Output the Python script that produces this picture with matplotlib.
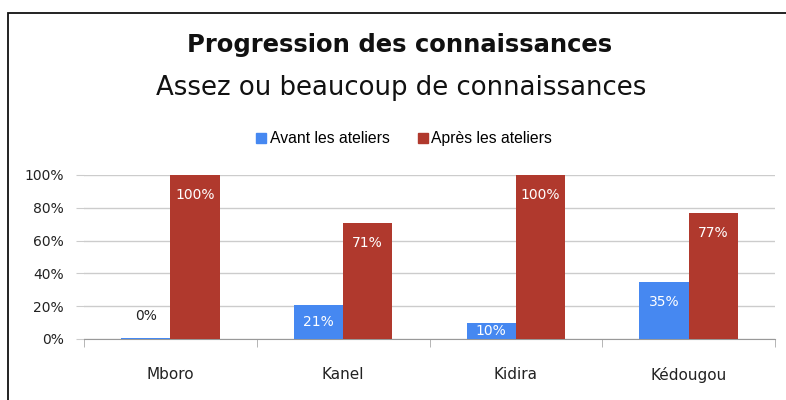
import matplotlib
matplotlib.use("Agg")
import matplotlib.pyplot as plt
from matplotlib.patches import Rectangle, Patch
import numpy as np

categories = ["Mboro", "Kanel", "Kidira", "Kédougou"]
avant = [0.005, 0.21, 0.10, 0.35]
apres = [1.00, 0.71, 1.00, 0.77]
avant_labels = ["0%", "21%", "10%", "35%"]
apres_labels = ["100%", "71%", "100%", "77%"]
series_names = ["Avant les ateliers", "Après les ateliers"]
yticks = [0, 0.2, 0.4, 0.6, 0.8, 1.0]
ytick_labels = ["0%", "20%", "40%", "60%", "80%", "100%"]

BLUE = "#4688f1"
RED = "#b0392d"
FONT = ["DejaVu Sans"]

W, H = 786, 400
fig = plt.figure(figsize=(W / 100, H / 100), dpi=100)

# frame
fig.add_artist(Rectangle((8 / W, -0.1), 1.2, (H - 13) / H + 0.1, transform=fig.transFigure,
                         fill=False, edgecolor="#111111", linewidth=1.3))

ax = fig.add_axes([84 / W, (H - 339) / H, (775 - 84) / W, (339 - 175) / H])
x = np.arange(len(categories))
bw = 0.285
ax.bar(x - bw / 2, avant, bw, color=BLUE, zorder=3)
ax.bar(x + bw / 2, apres, bw, color=RED, zorder=3)
ax.set_xlim(-0.5, len(categories) - 0.5)
ax.set_ylim(0, 1.0)

ax.set_yticks(yticks)
ax.set_yticklabels(ytick_labels, fontsize=10, family=FONT, color="#222222")
ax.tick_params(axis="y", length=6, color="#cccccc", pad=8.5)
ax.grid(axis="y", color="#cccccc", linewidth=1, zorder=0)
ax.set_xticks(x)
ax.set_xticklabels(categories, fontsize=11, family=FONT, color="#222222")
ax.tick_params(axis="x", length=0, pad=20)
ax.set_xticks(np.arange(-0.5, len(categories)), minor=True)
ax.tick_params(axis="x", which="minor", length=6, color="#aaaaaa")
for s in ["top", "right", "left"]:
    ax.spines[s].set_visible(False)
ax.spines["bottom"].set_color("#999999")

px = (339 - 175) / 1.0  # pixels per unit
def draw_labels(xs, vals, labels):
    for xi, v, lab in zip(xs, vals, labels):
        hpx = v * px
        if hpx < 4:
            ax.annotate(lab, (xi, v), xytext=(0, 22), textcoords="offset pixels",
                        ha="center", va="center", fontsize=10, family=FONT, color="#222222", zorder=5)
        else:
            off = min(20, hpx / 2)
            ax.annotate(lab, (xi, v), xytext=(0, -off), textcoords="offset pixels",
                        ha="center", va="center", fontsize=10, family=FONT, color="white", zorder=5)

draw_labels(x - bw / 2, avant, avant_labels)
draw_labels(x + bw / 2, apres, apres_labels)

fig.text(400 / W, 1 - 45 / H, "Progression des connaissances", ha="center", va="center",
         fontsize=17.5, fontweight="bold", family=FONT, color="#111111")
fig.text(401 / W, 1 - 88 / H, "Assez ou beaucoup de connaissances", ha="center", va="center",
         fontsize=18.7, family=FONT, color="#111111")

handles = [Patch(color=BLUE), Patch(color=RED)]
fig.legend(handles, series_names, loc="center", bbox_to_anchor=(404 / W, 1 - 139 / H), ncol=2,
           frameon=False, prop={"family": "Liberation Sans", "size": 11.3},
           handlelength=0.65, handleheight=0.65, handletextpad=0.2, columnspacing=1.8)

fig.savefig("out.png", dpi=100)
